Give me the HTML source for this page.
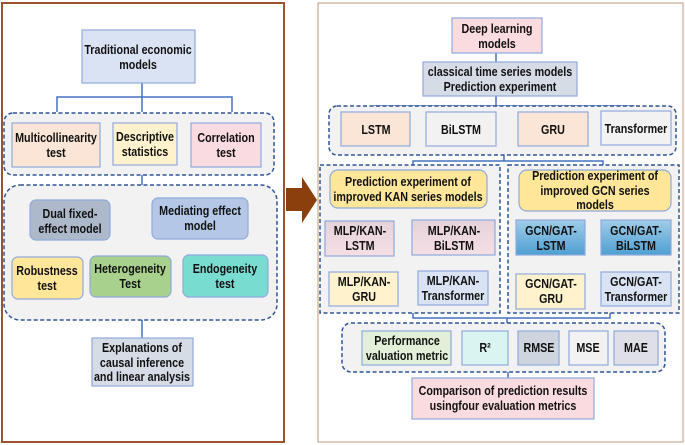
<!DOCTYPE html>
<html><head><meta charset="utf-8"><style>
html,body{margin:0;padding:0;background:#fff}
svg{display:block}
text{font-family:"Liberation Sans",sans-serif;font-weight:bold;font-size:12.5px;fill:#111;text-anchor:middle}
</style></head><body>
<svg width="685" height="445" viewBox="0 0 685 445" xmlns="http://www.w3.org/2000/svg">
<defs>
<linearGradient id="pk" x1="0" y1="0" x2="0" y2="1"><stop offset="0" stop-color="#e6d2da"/><stop offset="1" stop-color="#f3dfe4"/></linearGradient>
<linearGradient id="bl" x1="0" y1="0" x2="0" y2="1"><stop offset="0" stop-color="#9fcde8"/><stop offset="1" stop-color="#4f9fd2"/></linearGradient>
</defs>
<rect x="2" y="3" width="282" height="439" fill="#fff" stroke="#a0522d" stroke-width="2"/>
<rect x="318" y="3" width="365" height="439" fill="#fff" stroke="#c9a990" stroke-width="1.2"/>
<polygon points="286,188 302,188 302,177 317,200 302,223 302,211 286,211" fill="#8b3f0c"/>

<g stroke="#4472c4" stroke-width="1.5" fill="none">
<path d="M142 83V112M57 112V97H232V112M142 175V185M142 320V338"/>
<path d="M496 53V62M496 96V106M374 111V106H634V111M504 155V161M413 165V161H603V165M413 313V318H610V313M507 318V323M508 372V378"/>
</g>

<g stroke="#2f5597" stroke-width="1.5" stroke-dasharray="4,2.5">
<rect x="4" y="113" width="270" height="62" rx="9" fill="#f2f2f2"/>
<rect x="4" y="185" width="273" height="135" rx="16" fill="#f2f2f2"/>
<rect x="329" y="106" width="347" height="49" rx="8" fill="#f2f2f2"/>
<rect x="320" y="165" width="180" height="148" fill="#f2f2f2"/>
<rect x="508" y="165" width="171" height="148" fill="#f2f2f2"/>
<rect x="342" y="323" width="323" height="49" rx="9" fill="#f2f2f2"/>
</g>

<g stroke="#8faadc" stroke-width="1.2">
<rect x="82" y="30" width="113" height="53" fill="#dae3f3"/>
<rect x="12" y="123" width="88" height="44" fill="#fbe5d6"/>
<rect x="113" y="123" width="64" height="42" fill="#fff2cc"/>
<rect x="191" y="123" width="70" height="44" fill="#fbdbe2"/>
<rect x="30" y="200" width="80" height="40" rx="6" fill="#adb9ca"/>
<rect x="152" y="198" width="96" height="41" rx="6" fill="#b4c7e7"/>
<rect x="12" y="257" width="71" height="42" rx="6" fill="#ffe699"/>
<rect x="90" y="256" width="81" height="41" rx="6" fill="#a9d18e"/>
<rect x="183" y="255" width="85" height="42" rx="6" fill="#79dcd0"/>
<rect x="92" y="338" width="101" height="48" fill="#d6dce5"/>

<rect x="452" y="18" width="90" height="35" fill="#fadbe0"/>
<rect x="423" y="62" width="154" height="34" fill="#d6dce5"/>
<rect x="341" y="112" width="69" height="34" fill="#fbe5d6"/>
<rect x="426" y="112" width="70" height="34" fill="#f2f2f2"/>
<rect x="518" y="112" width="70" height="34" fill="#fbe5d6"/>
<rect x="601" y="111" width="70" height="34" fill="#f2f2f2"/>
<rect x="330" y="170" width="157" height="38" rx="8" fill="#ffe699"/>
<rect x="519" y="170" width="152" height="41" rx="8" fill="#ffe699"/>
<rect x="325" y="221" width="69" height="35" fill="url(#pk)"/>
<rect x="412" y="220" width="83" height="35" fill="url(#pk)"/>
<rect x="329" y="272" width="69" height="34" fill="#fff2cc"/>
<rect x="418" y="271" width="70" height="34" fill="#dae3f3"/>
<rect x="516" y="220" width="69" height="35" fill="url(#bl)"/>
<rect x="601" y="220" width="70" height="35" fill="url(#bl)"/>
<rect x="516" y="274" width="69" height="35" fill="#fff2cc"/>
<rect x="601" y="272" width="70" height="34" fill="#dae3f3"/>
<rect x="362" y="331" width="89" height="34" fill="#e2f0d9"/>
<rect x="462" y="331" width="46" height="34" fill="#d9f5f2"/>
<rect x="518" y="331" width="41" height="34" fill="#cfd5df"/>
<rect x="569" y="331" width="39" height="34" fill="#f2f2f2"/>
<rect x="614" y="331" width="44" height="34" fill="#dfe0e7"/>
<rect x="412" y="378" width="182" height="41" fill="#fadbe0"/>
</g>

<g transform="scale(0.86 1)">
<text x="160.5" y="54">Traditional economic</text><text x="160.5" y="69">models</text>
<text x="65.1" y="142">Multicollinearity</text><text x="65.1" y="157">test</text>
<text x="168.6" y="141">Descriptive</text><text x="168.6" y="156">statistics</text>
<text x="262.8" y="142">Correlation</text><text x="262.8" y="157">test</text>
<text x="81.4" y="218">Dual fixed-</text><text x="81.4" y="233">effect model</text>
<text x="232.6" y="215">Mediating effect</text><text x="232.6" y="230">model</text>
<text x="54.7" y="275">Robustness</text><text x="54.7" y="290">test</text>
<text x="151.2" y="273">Heterogeneity</text><text x="151.2" y="288">Test</text>
<text x="261.6" y="273">Endogeneity</text><text x="261.6" y="288">test</text>
<text x="165.1" y="352">Explanations of</text><text x="165.1" y="367">causal inference</text><text x="165.1" y="381">and linear analysis</text>

<text x="577.9" y="33">Deep learning</text><text x="577.9" y="48">models</text>
<text x="581.4" y="76">classical time series models</text><text x="581.4" y="91">Prediction experiment</text>
<text x="437.2" y="134">LSTM</text>
<text x="536.0" y="134">BiLSTM</text>
<text x="643.0" y="134">GRU</text>
<text x="739.5" y="133">Transformer</text>
<text x="474.4" y="186">Prediction experiment of</text><text x="474.4" y="201">improved KAN series models</text>
<text x="691.9" y="180">Prediction experiment of</text><text x="691.9" y="195">improved GCN series</text><text x="691.9" y="209">models</text>
<text x="418.6" y="235">MLP/KAN-</text><text x="418.6" y="250">LSTM</text>
<text x="527.9" y="235">MLP/KAN-</text><text x="527.9" y="250">BiLSTM</text>
<text x="423.3" y="286">MLP/KAN-</text><text x="423.3" y="301">GRU</text>
<text x="526.7" y="285">MLP/KAN-</text><text x="526.7" y="300">Transformer</text>
<text x="640.7" y="235">GCN/GAT-</text><text x="640.7" y="250">LSTM</text>
<text x="739.5" y="235">GCN/GAT-</text><text x="739.5" y="250">BiLSTM</text>
<text x="640.7" y="288">GCN/GAT-</text><text x="640.7" y="303">GRU</text>
<text x="739.5" y="286">GCN/GAT-</text><text x="739.5" y="301">Transformer</text>
<text x="473.3" y="345">Performance</text><text x="473.3" y="360">valuation metric</text>
<text x="564.0" y="352">R²</text>
<text x="626.7" y="352">RMSE</text>
<text x="683.7" y="352">MSE</text>
<text x="739.5" y="352">MAE</text>
<text x="584.9" y="395">Comparison of prediction results</text><text x="584.9" y="410">usingfour evaluation metrics</text>
</g>
</svg>
</body></html>
